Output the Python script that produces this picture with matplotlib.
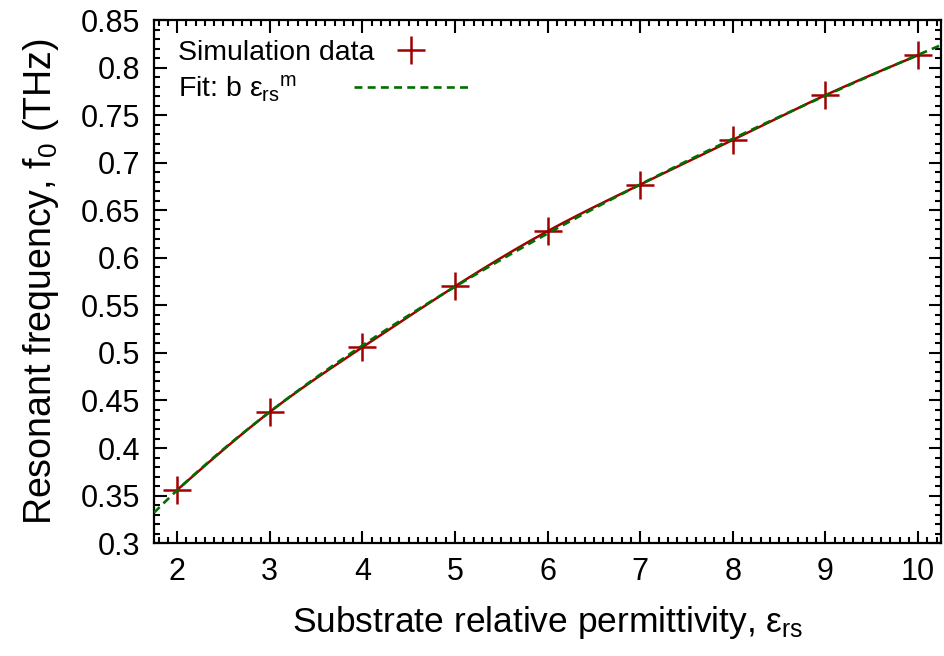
import numpy as np
import matplotlib
matplotlib.use("Agg")
import matplotlib.pyplot as plt
from matplotlib.ticker import MultipleLocator, FuncFormatter

plt.rcParams['font.family'] = ['Liberation Sans', 'DejaVu Sans']
plt.rcParams['mathtext.fontset'] = 'custom'
plt.rcParams['mathtext.rm'] = 'Liberation Sans'
plt.rcParams['mathtext.it'] = 'Liberation Sans'

# data
eps_rs = [2, 3, 4, 5, 6, 7, 8, 9, 10]
f0 = [0.356, 0.438, 0.506, 0.570, 0.628, 0.677, 0.724, 0.771, 0.813]
x_range = [1.75, 10.25]
y_range = [0.3, 0.85]
x_ticks = [2, 3, 4, 5, 6, 7, 8, 9, 10]
y_ticks = [0.3, 0.35, 0.4, 0.45, 0.5, 0.55, 0.6, 0.65, 0.7, 0.75, 0.8, 0.85]

# power-law fit f = b * eps^m from the data
m, logb = np.polyfit(np.log(eps_rs), np.log(f0), 1)
b = np.exp(logb)


def natural_cspline(x, y, n=400):
    """Smooth (natural cubic spline) rendering of a line through the data."""
    x = np.asarray(x, float)
    y = np.asarray(y, float)
    k = len(x)
    h = np.diff(x)
    A = np.zeros((k, k))
    r = np.zeros(k)
    A[0, 0] = A[-1, -1] = 1.0
    for i in range(1, k - 1):
        A[i, i - 1] = h[i - 1]
        A[i, i] = 2 * (h[i - 1] + h[i])
        A[i, i + 1] = h[i]
        r[i] = 6 * ((y[i + 1] - y[i]) / h[i] - (y[i] - y[i - 1]) / h[i - 1])
    M = np.linalg.solve(A, r)
    xs = np.linspace(x[0], x[-1], n)
    idx = np.clip(np.searchsorted(x, xs) - 1, 0, k - 2)
    x0, x1 = x[idx], x[idx + 1]
    hh = x1 - x0
    t0, t1 = x1 - xs, xs - x0
    ys = (M[idx] * t0 ** 3 + M[idx + 1] * t1 ** 3) / (6 * hh) \
        + (y[idx] / hh - M[idx] * hh / 6) * t0 \
        + (y[idx + 1] / hh - M[idx + 1] * hh / 6) * t1
    return xs, ys


RED = '#a00000'
GREEN = '#006f00'

fig = plt.figure(figsize=(9.45, 6.56), dpi=100)
ax = fig.add_axes([0.163, 0.172, 0.833, 0.7975])

xs, ys = natural_cspline(eps_rs, f0)
ax.plot(xs, ys, '-', color=RED, lw=1.8, zorder=2)
ax.plot(eps_rs, f0, '+', color=RED, ms=20, mew=1.8, ls='none',
        label='Simulation data', zorder=3)
xf = np.linspace(x_range[0], x_range[1], 300)
ax.plot(xf, b * xf ** m, '--', color=GREEN, lw=1.9, dashes=(3, 2),
        label=r'Fit: b $\varepsilon_{\mathrm{rs}}{}^{\mathrm{m}}$', zorder=4)

ax.set_xlim(*x_range)
ax.set_ylim(*y_range)
ax.set_xticks(x_ticks)
ax.set_yticks(y_ticks)
ax.xaxis.set_minor_locator(MultipleLocator(0.1))
ax.yaxis.set_minor_locator(MultipleLocator(0.01))
ax.yaxis.set_major_formatter(FuncFormatter(lambda v, p: ('%g' % round(v, 3))))
ax.tick_params(which='both', direction='in', top=True, right=True,
               width=1.5, labelsize=22, colors='black')
ax.tick_params(which='major', length=9, pad=10)
ax.tick_params(which='minor', length=4.5)
for s in ax.spines.values():
    s.set_linewidth(1.6)

ax.set_xlabel(r'Substrate relative permittivity, $\varepsilon_{\mathrm{rs}}$',
              fontsize=25.5, labelpad=12)
ax.set_ylabel(r'Resonant frequency, f$_{\mathrm{0}}$ (THz)', fontsize=27,
              labelpad=14)

leg = ax.legend(loc='upper left', bbox_to_anchor=(0.03, 0.962), frameon=False,
                fontsize=20.5, markerfirst=False, handlelength=4.0,
                handletextpad=-0.7, labelspacing=0.25, borderpad=0,
                borderaxespad=0)

# left-justify legend text while keeping samples aligned
fig.canvas.draw()
renderer = fig.canvas.get_renderer()
col = leg._legend_handle_box.get_children()[0]
rows = col.get_children()
widths = [r.get_children()[0].get_window_extent(renderer).width for r in rows]
mx = max(widths)
for r, w in zip(rows, widths):
    r.sep += (mx - w) / renderer.points_to_pixels(1.0)

fig.savefig('out.png', dpi=100, facecolor='white')
